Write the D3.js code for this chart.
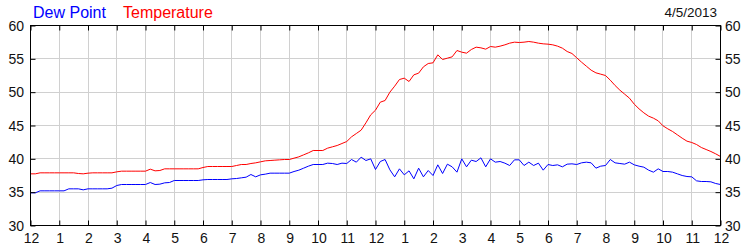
<!DOCTYPE html>
<html>
<head>
<meta charset="utf-8">
<script src="https://cdn.jsdelivr.net/npm/d3@7"></script>
<style>
  body { margin: 0; background: #fff; }
  svg { display: block; font-family: Arial, "Liberation Sans", sans-serif; }
</style>
</head>
<body>
<svg id="chart" width="750" height="250"></svg>
<script>
// one reading every 10 minutes, midnight to midnight
let sampleMinutes = 10;

let temperature = [
  37.75, 37.75, 37.9, 37.9, 37.9, 37.9, 37.9, 37.9, 37.9, 37.9, 37.8, 37.75,
  37.85, 37.9, 37.9, 37.9, 37.9, 37.9, 38.05, 38.15, 38.15, 38.15, 38.15, 38.15,
  38.15, 38.45, 38.2, 38.25, 38.5, 38.5, 38.5, 38.5, 38.5, 38.5, 38.5, 38.5,
  38.7, 38.85, 38.85, 38.85, 38.85, 38.85, 38.85, 39.0, 39.15, 39.15, 39.3, 39.4,
  39.55, 39.7, 39.75, 39.8, 39.85, 39.9, 39.9, 40.1, 40.3, 40.6, 40.9, 41.25,
  41.25, 41.25, 41.6, 41.8, 42.0, 42.3, 42.6, 43.3, 43.8, 44.3, 45.4, 46.6,
  47.3, 48.5, 48.75, 50.0, 50.9, 51.9, 52.1, 51.6, 52.6, 52.85, 53.8, 54.3,
  54.4, 55.6, 54.9, 55.1, 55.3, 56.25, 56.0, 55.85, 56.4, 56.75, 56.65, 56.45,
  56.85, 56.75, 56.9, 57.1, 57.35, 57.5, 57.45, 57.5, 57.6, 57.5, 57.35, 57.25,
  57.2, 57.1, 56.9, 56.6, 56.1, 55.8, 55.15, 54.5, 53.9, 53.3, 52.9, 52.7,
  52.5, 51.8, 51.0, 50.3, 49.7, 49.1, 48.2, 47.5, 46.9, 46.4, 46.1, 45.7,
  44.95, 44.5, 44.1, 43.6, 43.1, 42.65, 42.45, 42.15, 41.7, 41.4, 41.1, 40.75,
  40.35
];

let dewPoint = [
  34.9, 34.9, 35.2, 35.2, 35.2, 35.2, 35.2, 35.2, 35.5, 35.5, 35.5, 35.35,
  35.5, 35.5, 35.5, 35.5, 35.5, 35.6, 36.0, 36.15, 36.15, 36.15, 36.15, 36.15,
  36.15, 36.45, 36.15, 36.2, 36.4, 36.45, 36.75, 36.75, 36.75, 36.75, 36.75, 36.75,
  36.85, 36.9, 36.9, 36.9, 36.9, 36.9, 37.0, 37.05, 37.15, 37.25, 37.65, 37.3,
  37.6, 37.7, 37.85, 37.85, 37.85, 37.85, 37.85, 38.1, 38.3, 38.6, 38.9, 39.15,
  39.15, 39.15, 39.35, 39.3, 39.15, 39.35, 39.3, 39.9, 39.5, 40.25, 39.75, 40.0,
  38.4, 39.6, 39.9, 38.35, 37.3, 38.5, 37.6, 38.2, 37.0, 38.6, 37.3, 38.25,
  37.5, 39.1, 37.8, 39.2, 38.8, 38.0, 40.0, 38.8, 39.8, 39.6, 40.15, 38.8,
  40.0, 39.5, 39.6, 39.35, 39.0, 39.85, 39.85, 39.0, 39.5, 39.0, 39.35, 38.3,
  39.15, 39.0, 39.1, 38.8, 39.2, 39.25, 39.15, 39.4, 39.5, 39.4, 38.6, 38.9,
  39.0, 39.9, 39.4, 39.3, 39.2, 39.5, 39.1, 38.9, 38.75, 38.3, 38.0, 38.5,
  38.1, 38.1, 38.0, 37.75, 37.5, 37.35, 37.3, 36.7, 36.6, 36.6, 36.55, 36.3,
  36.15
];

let hourLabels = ["12", "1", "2", "3", "4", "5", "6", "7", "8", "9", "10", "11",
  "12", "1", "2", "3", "4", "5", "6", "7", "8", "9", "10", "11", "12"];
let valueTicks = [30, 35, 40, 45, 50, 55, 60];

let legendItems = [
  { name: "Dew Point", color: "#0000ff", x: 33 },
  { name: "Temperature", color: "#ff0000", x: 123 }
];
let dateLabel = "4/5/2013";

function draw() {
  let svg = d3.select("#chart");
  let left = 30.5, right = 720.5, top = 25.5, bottom = 225.5;
  let tickLen = 5;

  let x = d3.scaleLinear().domain([0, 24]).range([left, right]);
  let y = d3.scaleLinear().domain([30, 60]).range([bottom, top]);
  let crisp = v => Math.round(v - 0.5) + 0.5;

  let hours = d3.range(hourLabels.length);

  // Grid
  let grid = svg.append("g").attr("stroke", "#d0d0d0").attr("stroke-width", 1);
  grid.selectAll("line.v")
    .data(hours.slice(1, -1))
    .enter()
    .append("line")
    .attr("class", "v")
    .attr("x1", d => crisp(x(d)))
    .attr("x2", d => crisp(x(d)))
    .attr("y1", top)
    .attr("y2", bottom);
  grid.selectAll("line.h")
    .data(valueTicks.slice(1, -1))
    .enter()
    .append("line")
    .attr("class", "h")
    .attr("x1", left)
    .attr("x2", right)
    .attr("y1", d => crisp(y(d)))
    .attr("y2", d => crisp(y(d)));

  // Lines
  let line = d3.line()
    .x((d, i) => x(i * sampleMinutes / 60))
    .y(d => y(d));

  svg.append("path")
    .datum(dewPoint)
    .attr("fill", "none")
    .attr("stroke", "#0000ff")
    .attr("stroke-width", 1)
    .attr("d", line);

  svg.append("path")
    .datum(temperature)
    .attr("fill", "none")
    .attr("stroke", "#ff0000")
    .attr("stroke-width", 1)
    .attr("d", line);

  // Axes: ticks point inward on all four sides
  let bottomAxis = d3.axisTop(x).tickValues(hours).tickFormat("").tickSize(tickLen).tickSizeOuter(0);
  let topAxis = d3.axisBottom(x).tickValues(hours).tickFormat("").tickSize(tickLen).tickSizeOuter(0);
  let leftAxis = d3.axisRight(y).tickValues(valueTicks).tickFormat("").tickSize(tickLen).tickSizeOuter(0);
  let rightAxis = d3.axisLeft(y).tickValues(valueTicks).tickFormat("").tickSize(tickLen).tickSizeOuter(0);

  let axes = [
    [bottomAxis, "translate(0," + bottom + ")"],
    [topAxis, "translate(0," + top + ")"],
    [leftAxis, "translate(" + left + ",0)"],
    [rightAxis, "translate(" + right + ",0)"]
  ];
  for (let a of axes) {
    let g = svg.append("g").attr("transform", a[1]).call(a[0]);
    g.select(".domain").remove();
    g.selectAll("line").attr("stroke", "#000");
  }

  svg.append("rect")
    .attr("x", left)
    .attr("y", top)
    .attr("width", right - left)
    .attr("height", bottom - top)
    .attr("fill", "none")
    .attr("stroke", "#000")
    .attr("stroke-width", 1);

  // Labels
  svg.selectAll("text.hour")
    .data(hours)
    .enter()
    .append("text")
    .attr("class", "hour")
    .attr("x", d => x(d) + 1)
    .attr("y", 243)
    .attr("text-anchor", "middle")
    .attr("font-size", 14)
    .attr("fill", "#111")
    .text(d => hourLabels[d]);

  svg.selectAll("text.yleft")
    .data(valueTicks)
    .enter()
    .append("text")
    .attr("class", "yleft")
    .attr("x", 24)
    .attr("y", d => y(d) + 5)
    .attr("text-anchor", "end")
    .attr("font-size", 14)
    .attr("fill", "#111")
    .text(d => d);

  svg.selectAll("text.yright")
    .data(valueTicks)
    .enter()
    .append("text")
    .attr("class", "yright")
    .attr("x", 725)
    .attr("y", d => y(d) + 5)
    .attr("text-anchor", "start")
    .attr("font-size", 14)
    .attr("fill", "#111")
    .text(d => d);

  svg.selectAll("text.legend")
    .data(legendItems)
    .enter()
    .append("text")
    .attr("class", "legend")
    .attr("x", d => d.x)
    .attr("y", 18)
    .attr("font-size", 16)
    .attr("fill", d => d.color)
    .text(d => d.name);

  svg.append("text")
    .attr("x", 717)
    .attr("y", 17)
    .attr("text-anchor", "end")
    .attr("font-size", 13.5)
    .attr("fill", "#111")
    .text(dateLabel);
}

draw();
</script>
</body>
</html>
